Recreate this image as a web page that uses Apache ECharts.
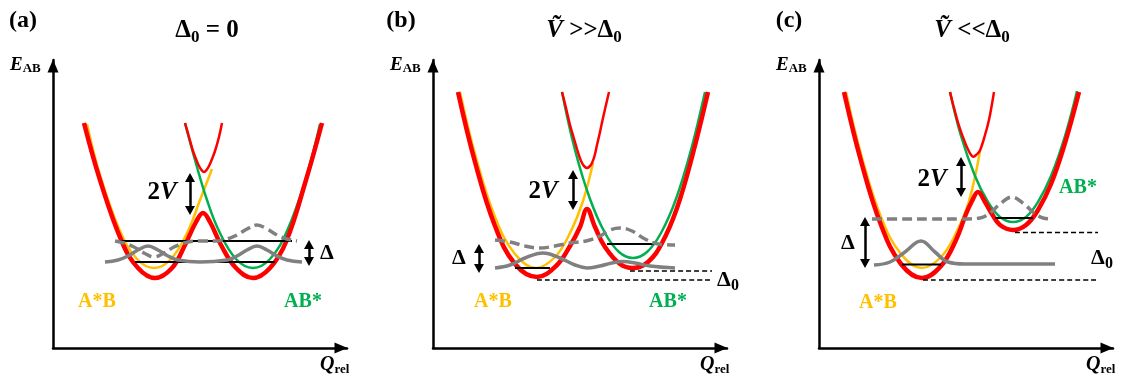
<!DOCTYPE html>
<html>
<head>
<meta charset="utf-8">
<script src="https://cdn.jsdelivr.net/npm/echarts@6/dist/echarts.min.js"></script>
<style>
  html, body { margin: 0; padding: 0; background: #fff; }
  #box { width: 1121px; height: 376px; }
</style>
</head>
<body>
<div id="box"></div>
<script>
var myChart = echarts.init(document.getElementById("box"));

// left edge of each panel's axes (px)
var panelLeft = [53, 433, 819];

// ---- (a) Δ0 = 0 ----
var yellowA = [[34,224],[47,173],[67,117],[84,89],[101,80],[118,89],[135,117],[147,148],[159,179]];
var greenA = [[132,225],[142,188],[154,148],[166,117],[183,89],[200,80],[217,89],[234,117],[253,170],[267,224]];
var redLowA = [[31,225],[47,168],[69,106],[85,80],[102,70],[119,80],[132,103],[143,126],[150,135],[157,126],[168,103],[183,80],[200,70],[217,80],[233,106],[253,168],[269,225]];
var redUpA = [[132,225],[136,211],[140,197],[143,189],[146,182],[148.5,178],[151,176],[153.5,178],[156,182],[159,189],[162,197],[166,211],[169,225]];
var dashA = [[62,107],[71,105],[81,101],[91,95],[101,91],[111,95],[121,101],[131,105],[147,107],[162,107],[174,109],[184,113],[194,119],[204,123],[214,119],[224,113],[234,109],[244,107]];
var solidA = [[52,86],[65,88],[75,92],[85,98],[95,102],[105,98],[115,92],[125,88],[147,86],[174,88],[184,92],[194,98],[204,102],[214,98],[224,92],[234,88],[249,86]];
var levelsA = [[64,239,107],[82,222,86]];          // Q1, Q2, E
var refsA = [];
var arrowsA = [[137,175,133],[256,108,82]];        // Q, E top, E bottom
var labelsA = [["{v|2}{vi|V}",109,155],["{d|Δ}",274,95],["{y|A*B}",44,46],["{g|AB*}",250,46]];

// ---- (b) V >> Δ0 ----
var yellowB = [[27,256],[42,194],[62,131],[82,94],[103,80],[122,91],[137,115],[150,147],[160,185]];
var greenB = [[129,256],[142,198],[157,149],[172,115],[186,96],[200,90],[214,96],[228,115],[243,149],[258,198],[272,256]];
var redLowB = [[25,256],[42,186],[62,122],[82,84],[104,71],[123,82],[137,102],[147,121],[154,139],[162,121],[172,101],[187,84],[200,80],[215,86],[229,105],[244,140],[259,191],[275,256]];
var redUpB = [[129,256],[133,240],[137,223],[140.5,211],[144,199],[146.5,191],[149,185],[151.5,181.5],[154,180],[156.5,181.5],[159,185],[161.5,192],[164,203],[167,216],[170,230],[176,256]];
var dashB = [[62,108],[77,106],[92,102],[107,100],[122,102],[137,105],[153,107],[167,112],[177,118],[187,120],[199,117],[212,109],[225,104],[242,103]];
var solidB = [[62,80],[77,83],[92,90],[110,95],[127,90],[142,83],[154,80],[167,82],[179,85],[190,86.5],[202,85],[217,82],[242,80]];
var levelsB = [[174,227,104],[82,117,80]];
var refsB = [[197,279,77],[104,279,68]];
var arrowsB = [[140,178,138],[46,104,75]];
var labelsB = [["{v|2}{vi|V}",110,156],["{d|Δ}",26,90],["{d|Δ}{ds|0}",295,68],["{y|A*B}",60,46],["{g|AB*}",235,46]];

// ---- (c) V << Δ0 ----
var yellowC = [[27,256],[42,194],[62,131],[82,94],[103,80],[122,91],[137,115],[150,147],[161,197]];
var greenC = [[131,256],[142,212],[156,172],[169,146],[181,131],[194,126],[207,131],[219,146],[232,172],[246,212],[258,257]];
var redLowC = [[25,256],[42,187],[62,123],[82,84],[103,70],[122,82],[137,108],[147,134],[153,147],[159,156],[166,146],[173,134],[181,123],[194,118],[207,123],[219,138],[232,164],[246,205],[260,256]];
var redUpC = [[131,256],[134.5,242],[137.7,230],[141,219],[144.3,210],[147,203],[149.3,198],[151.8,193.5],[154.3,191.3],[157,193],[160.3,196.3],[163,203],[166,213],[168.5,222],[171,233],[175,256]];
var dashC = [[53,129],[81,129],[111,129],[141,129],[161,130],[171,135],[181,144],[193,151],[205,144],[215,135],[224,130],[234,129]];
var solidC = [[55,83],[71,86],[86,96],[102,107],[116,96],[129,86],[146,84],[181,84],[236,84]];
var levelsC = [[176,214,130],[83,122,83.5]];
var refsC = [[196,279,115.5],[104,279,68]];
var arrowsC = [[142,191,151],[46,131,80]];
var labelsC = [["{v|2}{vi|V}",113,168],["{d|Δ}",29,105],["{d|Δ}{ds|0}",283,90],["{y|A*B}",59,45],["{g|AB*}",259,160]];

var panelLetters = ["(a)", "(b)", "(c)"];
var panelTitles = ["{t|Δ}{ts|0}{t| = 0}", "{ti|\u1E7C}{t| >>Δ}{ts|0}", "{ti|\u1E7C}{t| <<Δ}{ts|0}"];

var panels = [
  { yellow: yellowA, green: greenA, redLow: redLowA, redUp: redUpA, dash: dashA, solid: solidA, levels: levelsA, refs: refsA, arrows: arrowsA, labels: labelsA },
  { yellow: yellowB, green: greenB, redLow: redLowB, redUp: redUpB, dash: dashB, solid: solidB, levels: levelsB, refs: refsB, arrows: arrowsB, labels: labelsB },
  { yellow: yellowC, green: greenC, redLow: redLowC, redUp: redUpC, dash: dashC, solid: solidC, levels: levelsC, refs: refsC, arrows: arrowsC, labels: labelsC }
];

var serif = "'Liberation Serif','Times New Roman',serif";
var YELLOW = "#FFC000", GREEN = "#00B050", RED = "#FF0000", GREY = "#808080";
var HEAD = 9; // arrow head length

function txt(size, color, italic, padTop) {
  return {
    fontFamily: serif, fontWeight: "bold", fontSize: size, color: color || "#000",
    fontStyle: italic ? "italic" : "normal", padding: [padTop || 0, 0, 0, 0],
    textBorderWidth: 0, textShadowBlur: 0
  };
}
var rich = {
  t: txt(25), ti: txt(25, "#000", true), ts: txt(17, "#000", false, 13),
  v: txt(25), vi: txt(25, "#000", true),
  d: txt(22), ds: txt(16, "#000", false, 12),
  y: txt(20, YELLOW), g: txt(20, GREEN),
  e: txt(19, "#000", true), es: txt(13, "#000", false, 8),
  q: txt(20, "#000", true), qs: txt(13, "#000", false, 9),
  p: txt(24)
};

function curve(data, i, color, width, type, z) {
  return {
    type: "line", xAxisIndex: i, yAxisIndex: i, data: data,
    smooth: 0.4, showSymbol: false, silent: true, animation: false, z: z || 2,
    lineStyle: { color: color, width: width, type: type || "solid" }
  };
}

function axisLine() {
  return {
    show: true, symbol: ["none", "triangle"], symbolSize: [11, 13], symbolOffset: [0, -6],
    lineStyle: { color: "#000", width: 2.5 }
  };
}

var grids = [], xAxes = [], yAxes = [], series = [], graphics = [];

panels.forEach(function (p, i) {
  var ox = panelLeft[i];
  grids.push({ left: ox, top: 60, width: 294, height: 288 });
  xAxes.push({
    gridIndex: i, type: "value", min: 0, max: 294, axisLine: axisLine(),
    axisTick: { show: false }, axisLabel: { show: false }, splitLine: { show: false }
  });
  yAxes.push({
    gridIndex: i, type: "value", min: 0, max: 288, axisLine: axisLine(),
    axisTick: { show: false }, axisLabel: { show: false }, splitLine: { show: false }
  });

  // diabatic and adiabatic curves
  series.push(curve(p.yellow, i, YELLOW, 2.5, "solid", 2));
  series.push(curve(p.green, i, GREEN, 2.5, "solid", 2));
  series.push(curve(p.redLow, i, RED, 4.5, "solid", 3));
  series.push(curve(p.redUp, i, RED, 2.5, "solid", 3));

  // energy levels
  p.levels.forEach(function (l) {
    series.push(curve([[l[0], l[2]], [l[1], l[2]]], i, "#000", 2, "solid", 4));
  });
  p.refs.forEach(function (l) {
    series.push(curve([[l[0], l[2]], [l[1], l[2]]], i, "#000", 1.5, [5, 3], 4));
  });

  // wavefunctions
  series.push(curve(p.dash, i, GREY, 3.5, [10, 5], 5));
  series.push(curve(p.solid, i, GREY, 3.5, "solid", 5));

  // double arrows (coords are the tips)
  series.push({
    type: "line", xAxisIndex: i, yAxisIndex: i, data: [], silent: true, animation: false,
    markLine: {
      silent: true, animation: false, symbol: ["triangle", "triangle"], symbolSize: [10, HEAD],
      label: { show: false },
      lineStyle: { color: "#000", width: 2.5, type: "solid" },
      emphasis: { disabled: true },
      data: p.arrows.map(function (a) {
        return [{ coord: [a[0], a[1] - HEAD / 2] }, { coord: [a[0], a[2] + HEAD / 2] }];
      })
    }
  });

  // text labels
  series.push({
    type: "scatter", xAxisIndex: i, yAxisIndex: i, symbolSize: 0, clip: false, silent: true, animation: false,
    itemStyle: { color: "#000", opacity: 1 },
    data: p.labels.map(function (l) { return { name: l[0], value: [l[1], l[2]] }; }),
    label: {
      show: true, position: "inside", color: "#000", textBorderWidth: 0,
      formatter: function (d) { return d.name; }, rich: rich
    },
    z: 6
  });

  graphics.push({
    type: "text", x: [23, 401, 789][i], y: 21,
    style: { text: "{p|" + panelLetters[i] + "}", rich: rich, align: "center", verticalAlign: "middle" }
  });
  graphics.push({
    type: "text", x: [207, 584, 972][i], y: 31,
    style: { text: panelTitles[i], rich: rich, align: "center", verticalAlign: "middle" }
  });
  graphics.push({
    type: "text", x: ox - 43, y: 65,
    style: { text: "{e|E}{es|AB}", rich: rich, align: "left", verticalAlign: "middle" }
  });
  graphics.push({
    type: "text", x: ox + 267, y: 365,
    style: { text: "{q|Q}{qs|rel}", rich: rich, align: "left", verticalAlign: "middle" }
  });
});

myChart.setOption({
  backgroundColor: "#fff",
  animation: false,
  grid: grids,
  xAxis: xAxes,
  yAxis: yAxes,
  series: series,
  graphic: graphics
});
</script>
</body>
</html>
